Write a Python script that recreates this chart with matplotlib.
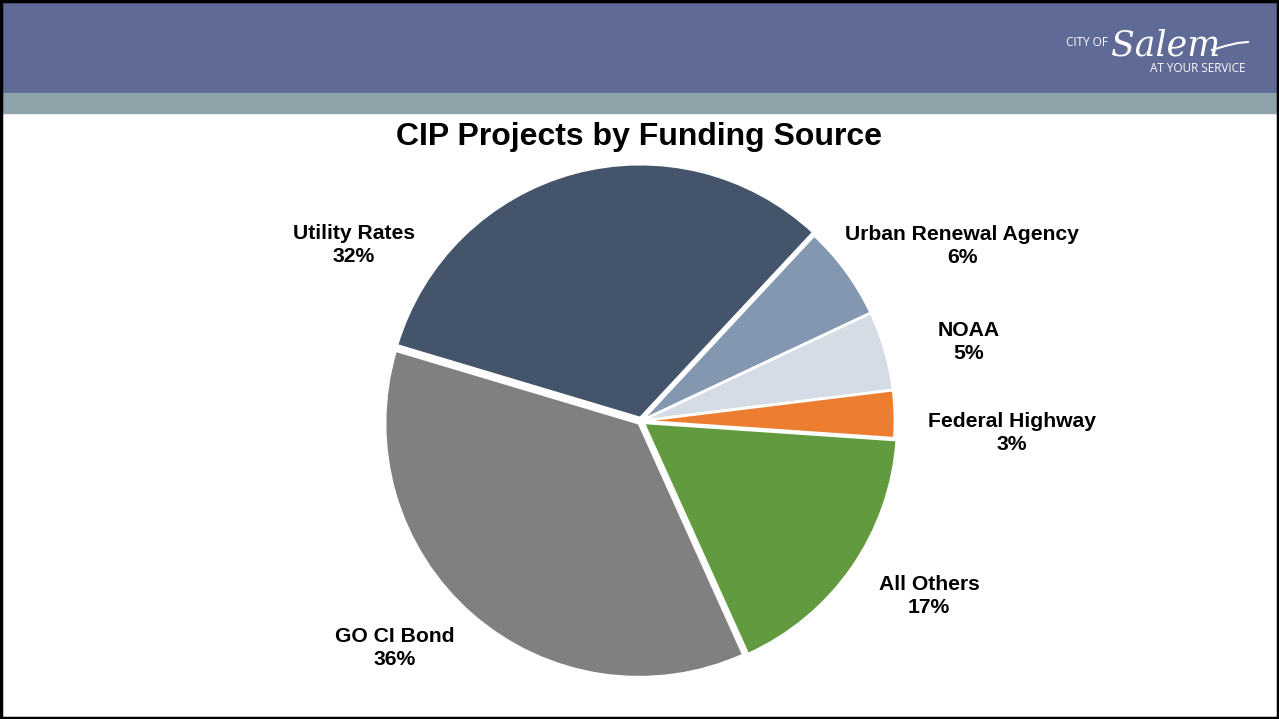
import matplotlib
matplotlib.use("Agg")
import matplotlib.pyplot as plt
from matplotlib.patches import Rectangle

plt.rcParams['font.family'] = ['Liberation Sans', 'DejaVu Sans']

# data, clockwise from the top right
categories = ["Urban Renewal Agency", "NOAA", "Federal Highway", "All Others", "GO CI Bond", "Utility Rates"]
shares = [6, 5, 3, 17, 36, 32]
colors = ["#8497B0", "#D6DCE5", "#ED7D31", "#629B3F", "#808080", "#44546A"]
explode = [0, 0, 0, 3, 3, 3]  # in pixels, pie does not scale by radius

# label centres in pixel coords (x, y from top)
label_pos = [(962, 246), (969, 342), (1012, 433), (929, 596), (395, 648), (354, 245)]

W, H = 1279, 719
fig = plt.figure(figsize=(W / 100, H / 100), dpi=100)
ax = fig.add_axes([0, 0, 1, 1])

# header bands
ax.add_patch(Rectangle((0, H - 93), W, 93, color="#5F6A96", zorder=0))
ax.add_patch(Rectangle((0, H - 113), W, 20, color="#8FA3AB", zorder=0))

# logo
ax.text(1108, H - 43, "CITY OF", color="white", fontsize=8.5, ha="right", va="center", family="Open Sans")
ax.text(1111, H - 46, "Salem", color="white", fontsize=25, ha="left", va="center",
        family="DejaVu Serif", style="italic")
ax.plot([1212, 1225, 1238, 1248], [H - 50, H - 46, H - 43, H - 42], color="white", lw=1.5)
ax.text(1198, H - 68, "AT YOUR SERVICE", color="white", fontsize=8.5, ha="center", va="center", family="Open Sans")

# title
ax.text(639, H - 137, "CIP Projects by Funding Source", fontsize=23, fontweight="bold",
        ha="center", va="center")

wedges, _ = ax.pie(shares, colors=colors, explode=explode, startangle=47, counterclock=False,
                   center=(641, H - 421), radius=254, frame=True,
                   wedgeprops=dict(edgecolor="white", linewidth=2))

for name, val, (x, y) in zip(categories, shares, label_pos):
    ax.text(x, H - y, name + "\n" + str(val) + "%", fontsize=15.2, fontweight="bold",
            ha="center", va="center", linespacing=1.3)

# outer frame
ax.add_patch(Rectangle((1, 1), W - 2, H - 2, fill=False, edgecolor="black", lw=2.5, zorder=5))

ax.set_xlim(0, W)
ax.set_ylim(0, H)
ax.axis("off")

fig.savefig("out.png", dpi=100)
